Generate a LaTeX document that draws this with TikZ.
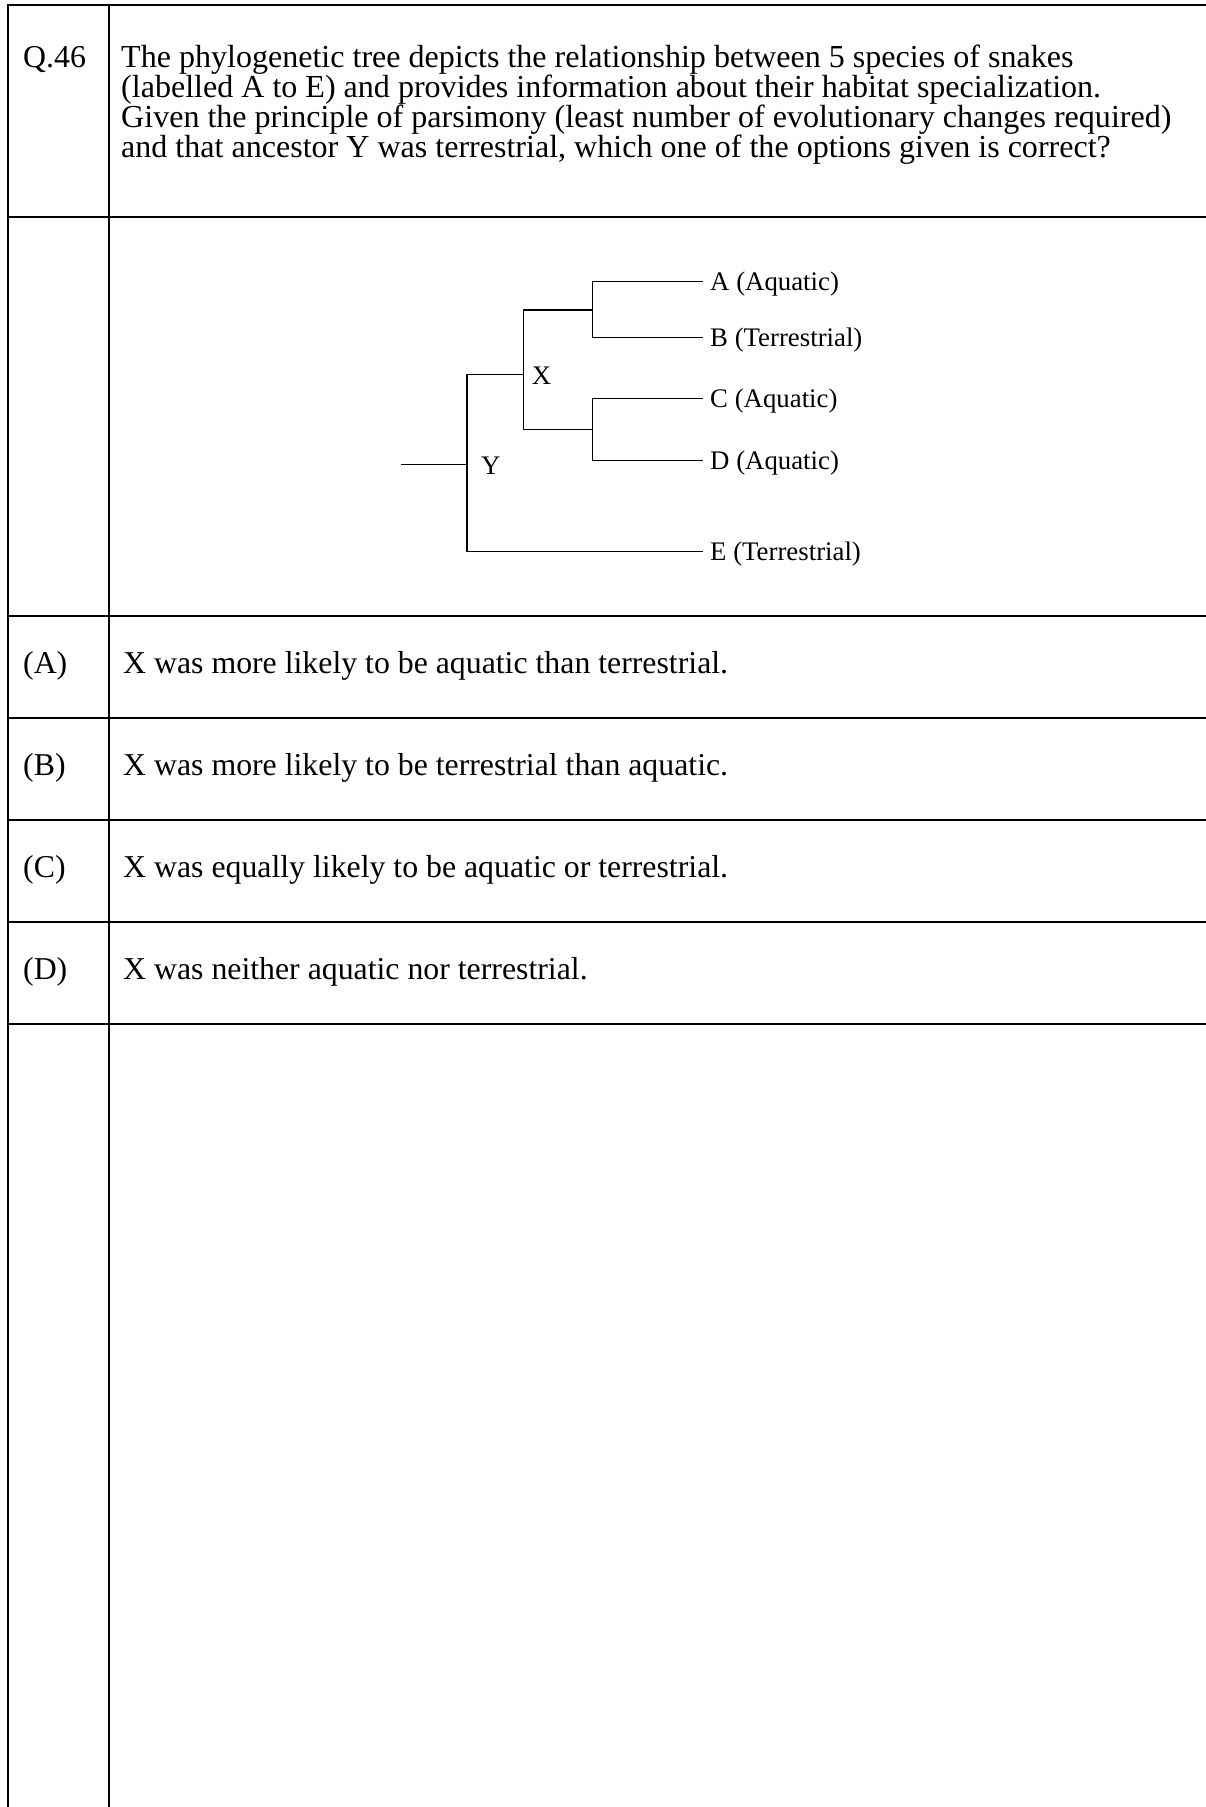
\documentclass[tikz,border=0pt]{standalone}
\usepackage{fontspec}
\setmainfont{Liberation Serif}
\begin{document}
\begin{tikzpicture}[x=1pt,y=-1pt,
  grid/.style={line width=2pt,line cap=rect},
  branch/.style={line width=1.3pt},
  txt/.style={inner sep=0pt,anchor=base west,font=\fontsize{31.8}{34}\selectfont},
  htxt/.style={inner sep=0pt,anchor=base west,font=\fontsize{32.05}{34}\selectfont},
  lbl/.style={inner sep=0pt,anchor=base west,font=\fontsize{26.8}{30}\selectfont}]
\useasboundingbox (0,0) rectangle (1205,1807);
% table
\draw[grid] (7.5,5) -- (7.5,1812);
\draw[grid] (109,5) -- (109,1812);
\foreach \yy in {5,217,616,718,820,922,1024}
  \draw[grid] (7.5,\yy) -- (1212,\yy);
% header
\node[txt] (q) at (23,67.2) {Q.46};
\node[htxt] (h1) at (121,67.2) {The phylogenetic tree depicts the relationship between 5 species of snakes};
\node[htxt] (h2) at (121,97.3) {(labelled A to E) and provides information about their habitat specialization.};
\node[htxt] (h3) at (121,127.4) {Given the principle of parsimony (least number of evolutionary changes required)};
\node[htxt] (h4) at (121,157.5) {and that ancestor Y was terrestrial, which one of the options given is correct?};
% options
\node[txt] (oA) at (23,673) {(A)};
\node[txt] (tA) at (123,673) {X was more likely to be aquatic than terrestrial.};
\node[txt] (oB) at (23,775) {(B)};
\node[txt] (tB) at (123,775) {X was more likely to be terrestrial than aquatic.};
\node[txt] (oC) at (23,877) {(C)};
\node[txt] (tC) at (123,877) {X was equally likely to be aquatic or terrestrial.};
\node[txt] (oD) at (23,979) {(D)};
\node[txt] (tD) at (123,979) {X was neither aquatic nor terrestrial.};
% tree coordinates
\coordinate (root) at (400.7,464.3);
\coordinate (y0) at (467,464.3);
\coordinate (ytop) at (467,374.3);
\coordinate (ybot) at (467,551.7);
\coordinate (xn) at (523.3,374.3);
\coordinate (xtop) at (523.3,310);
\coordinate (xbot) at (523.3,429.3);
\coordinate (ab) at (592.3,310);
\coordinate (abtop) at (592.3,281.7);
\coordinate (abbot) at (592.3,337.3);
\coordinate (cd) at (592.3,429.3);
\coordinate (cdtop) at (592.3,398.7);
\coordinate (cdbot) at (592.3,460.7);
\coordinate (tA) at (703.3,281.7);
\coordinate (tB) at (703.3,337.3);
\coordinate (tC) at (703.3,398.7);
\coordinate (tD) at (703.3,460.7);
\coordinate (tE) at (703.3,551.7);
% tree branches
\draw[branch] (root) -- (y0);
\draw[branch] (ytop) -- (ybot);
\draw[branch] (ytop) -- (xn);
\draw[branch] (xtop) -- (xbot);
\draw[branch] (xtop) -- (ab);
\draw[branch] (abtop) -- (abbot);
\draw[branch] (xbot) -- (cd);
\draw[branch] (cdtop) -- (cdbot);
\draw[branch] (abtop) -- (tA);
\draw[branch] (abbot) -- (tB);
\draw[branch] (cdtop) -- (tC);
\draw[branch] (cdbot) -- (tD);
\draw[branch] (ybot) -- (tE);
% tree labels
\node[lbl] (lX) at (531.7,384.3) {X};
\node[lbl] (lY) at (481,474) {Y};
\node[lbl] (lA) at (710,290.5) {A (Aquatic)};
\node[lbl] (lB) at (710,346.1) {B (Terrestrial)};
\node[lbl] (lC) at (710,407.5) {C (Aquatic)};
\node[lbl] (lD) at (710,469.5) {D (Aquatic)};
\node[lbl] (lE) at (710,560.5) {E (Terrestrial)};
\end{tikzpicture}
\end{document}
